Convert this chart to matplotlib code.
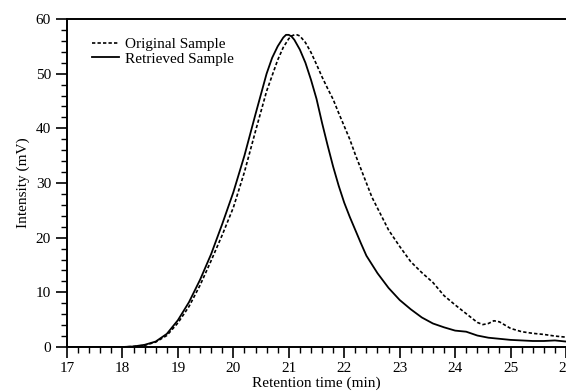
import numpy as np
import matplotlib.pyplot as plt
from matplotlib.ticker import MultipleLocator

plt.rcParams['font.family'] = ['Liberation Serif', 'DejaVu Serif']

# retrieved sample (solid)
t_retr = [17.0, 17.5, 18.0, 18.2, 18.4, 18.6, 18.8, 19.0, 19.2, 19.4, 19.6, 19.8,
          20.0, 20.2, 20.4, 20.6, 20.7, 20.8, 20.9, 20.95, 21.0, 21.05, 21.1, 21.2,
          21.3, 21.4, 21.5, 21.6, 21.7, 21.8, 21.9, 22.0, 22.1, 22.2, 22.3, 22.4,
          22.5, 22.6, 22.8, 23.0, 23.2, 23.4, 23.6, 23.8, 24.0, 24.2, 24.4, 24.6,
          24.8, 25.0, 25.2, 25.4, 25.6, 25.8, 26.0]
i_retr = [0.0, 0.0, 0.0, 0.1, 0.4, 1.0, 2.4, 4.9, 8.2, 12.3, 17.0, 22.5,
          28.3, 35.0, 42.6, 50.0, 52.9, 55.0, 56.6, 57.1, 57.1, 56.8, 56.2, 54.4,
          52.0, 48.9, 45.4, 41.0, 36.9, 33.0, 29.5, 26.4, 23.8, 21.4, 19.0, 16.7,
          15.1, 13.5, 10.8, 8.6, 6.9, 5.4, 4.3, 3.6, 3.0, 2.8, 2.1, 1.7,
          1.5, 1.3, 1.2, 1.1, 1.1, 1.2, 1.0]

# original sample (dotted)
t_orig = [17.0, 17.5, 18.0, 18.2, 18.4, 18.6, 18.8, 19.0, 19.2, 19.4, 19.6, 19.8,
          20.0, 20.2, 20.4, 20.6, 20.8, 20.9, 21.0, 21.05, 21.1, 21.15, 21.2, 21.3,
          21.4, 21.5, 21.6, 21.7, 21.8, 21.9, 22.0, 22.1, 22.2, 22.3, 22.4, 22.5,
          22.6, 22.7, 22.8, 23.0, 23.2, 23.4, 23.6, 23.8, 24.0, 24.2, 24.4, 24.5,
          24.6, 24.7, 24.8, 24.9, 25.0, 25.2, 25.4, 25.6, 25.8, 26.0]
i_orig = [0.0, 0.0, 0.0, 0.1, 0.3, 0.9, 2.1, 4.4, 7.4, 11.3, 15.8, 20.5,
          25.5, 32.0, 39.5, 46.8, 52.5, 54.8, 56.4, 56.9, 57.1, 57.1, 56.9, 55.7,
          53.9, 51.7, 49.4, 47.3, 45.3, 42.8, 40.4, 38.0, 35.2, 32.6, 30.0, 27.4,
          25.4, 23.4, 21.4, 18.4, 15.6, 13.6, 11.8, 9.4, 7.7, 6.1, 4.5, 4.1,
          4.3, 4.8, 4.6, 4.0, 3.4, 2.8, 2.5, 2.3, 2.0, 1.8]

fig = plt.figure(figsize=(5.66, 3.92), dpi=100)
ax = fig.add_axes([67/566, 45/392, 1 - 67/566, 328/392])

ax.plot(t_orig, i_orig, color='black', lw=1.2, dashes=(2, 1.3), label='Original Sample')
ax.plot(t_retr, i_retr, color='black', lw=1.3, label='Retrieved Sample')

ax.set_xlim(17, 26)
ax.set_ylim(0, 60)
ax.xaxis.set_major_locator(MultipleLocator(1))
ax.xaxis.set_minor_locator(MultipleLocator(0.2))
ax.yaxis.set_major_locator(MultipleLocator(10))
ax.yaxis.set_minor_locator(MultipleLocator(2))
ax.tick_params(which='major', direction='out', length=8, width=1.2, labelsize=11)
ax.tick_params(which='minor', direction='out', length=4, width=1.0)
ax.tick_params(axis='x', pad=3)

ax.spines['right'].set_visible(False)
for s in ['left', 'bottom', 'top']:
    ax.spines[s].set_linewidth(1.4)

ax.set_xlabel('Retention time (min)', fontsize=11, labelpad=1)
ax.set_ylabel('Intensity (mV)', fontsize=11, labelpad=4)

ax.legend(loc='upper left', frameon=False, fontsize=11, handlelength=1.8,
          handletextpad=0.4, labelspacing=0.05, bbox_to_anchor=(0.022, 0.985))

fig.savefig('out.png', dpi=100)
